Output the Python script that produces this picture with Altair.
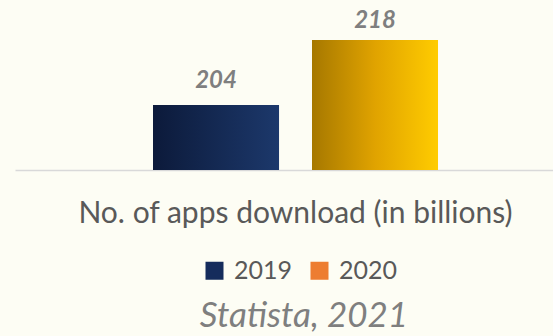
import altair as alt
import pandas as pd

categories = ["No. of apps download (in billions)"]
years = ["2019", "2020"]
values = [204, 218]

df = pd.DataFrame({
    "category": [categories[0]] * len(years),
    "year": years,
    "value": values,
})

FONT = "Lato"

navy = alt.Gradient(
    gradient="linear", x1=0, x2=1, y1=0, y2=0,
    stops=[alt.GradientStop(color="#0c1a3a", offset=0),
           alt.GradientStop(color="#1c386b", offset=1)],
)
gold = alt.Gradient(
    gradient="linear", x1=0, x2=1, y1=0, y2=0,
    stops=[alt.GradientStop(color="#a67800", offset=0),
           alt.GradientStop(color="#e0a300", offset=0.5),
           alt.GradientStop(color="#ffcc00", offset=1)],
)

base = alt.Chart(df).encode(
    x=alt.X(
        "category:N",
        title=None,
        scale=alt.Scale(paddingInner=0, paddingOuter=0.4439, align=0.5455),
        axis=alt.Axis(
            domain=True, domainColor="#d9d9d9", domainWidth=1.5,
            ticks=False, labelPadding=28, labelFontSize=30, labelFont=FONT,
            labelColor="#595959", labelAngle=0, labelLimit=600,
        ),
    ),
    xOffset=alt.XOffset("year:N", scale=alt.Scale(paddingInner=0.2075, paddingOuter=0)),
    y=alt.Y("value:Q", scale=alt.Scale(domain=[190, 226.6], zero=False, nice=False, clamp=True), axis=None),
)

legend_bars = base.mark_bar().encode(
    color=alt.Color(
        "year:N",
        scale=alt.Scale(domain=years, range=["#152c5c", "#ED7D31"]),
        legend=alt.Legend(
            title=None, orient="none", legendX=187, legendY=258,
            direction="horizontal", symbolType="square", symbolSize=324,
            symbolStrokeWidth=0, labelFontSize=25, labelFont=FONT,
            labelColor="#595959", labelOffset=7, columnPadding=14, padding=0,
        ),
    )
)

bar19 = base.transform_filter(alt.datum.year == "2019").mark_bar(fill=navy)
bar20 = base.transform_filter(alt.datum.year == "2020").mark_bar(fill=gold)

label_style = dict(fontSize=24, fontStyle="italic", fontWeight="bold",
                   color="#7f7f7f", font=FONT, baseline="alphabetic")
text19 = base.transform_filter(alt.datum.year == "2019").mark_text(dy=-17, **label_style).encode(text="value:Q")
text20 = base.transform_filter(alt.datum.year == "2020").mark_text(dy=-12, **label_style).encode(text="value:Q")

chart = alt.layer(legend_bars, bar19, bar20, text19, text20).properties(
    width=538,
    height=170,
    autosize=alt.AutoSizeParams(type="none"),
    padding={"left": 15, "top": 0, "right": 0, "bottom": 166},
    background="#fdfdf4",
    title=alt.TitleParams(
        "Statista, 2021", orient="bottom", anchor="middle", fontSize=35,
        fontStyle="italic", fontWeight="normal", color="#7f7f7f", font=FONT,
        dx=20, offset=15,
    ),
).configure_view(stroke=None)

chart.save("out.html", embed_options={"renderer": "svg", "actions": False})
